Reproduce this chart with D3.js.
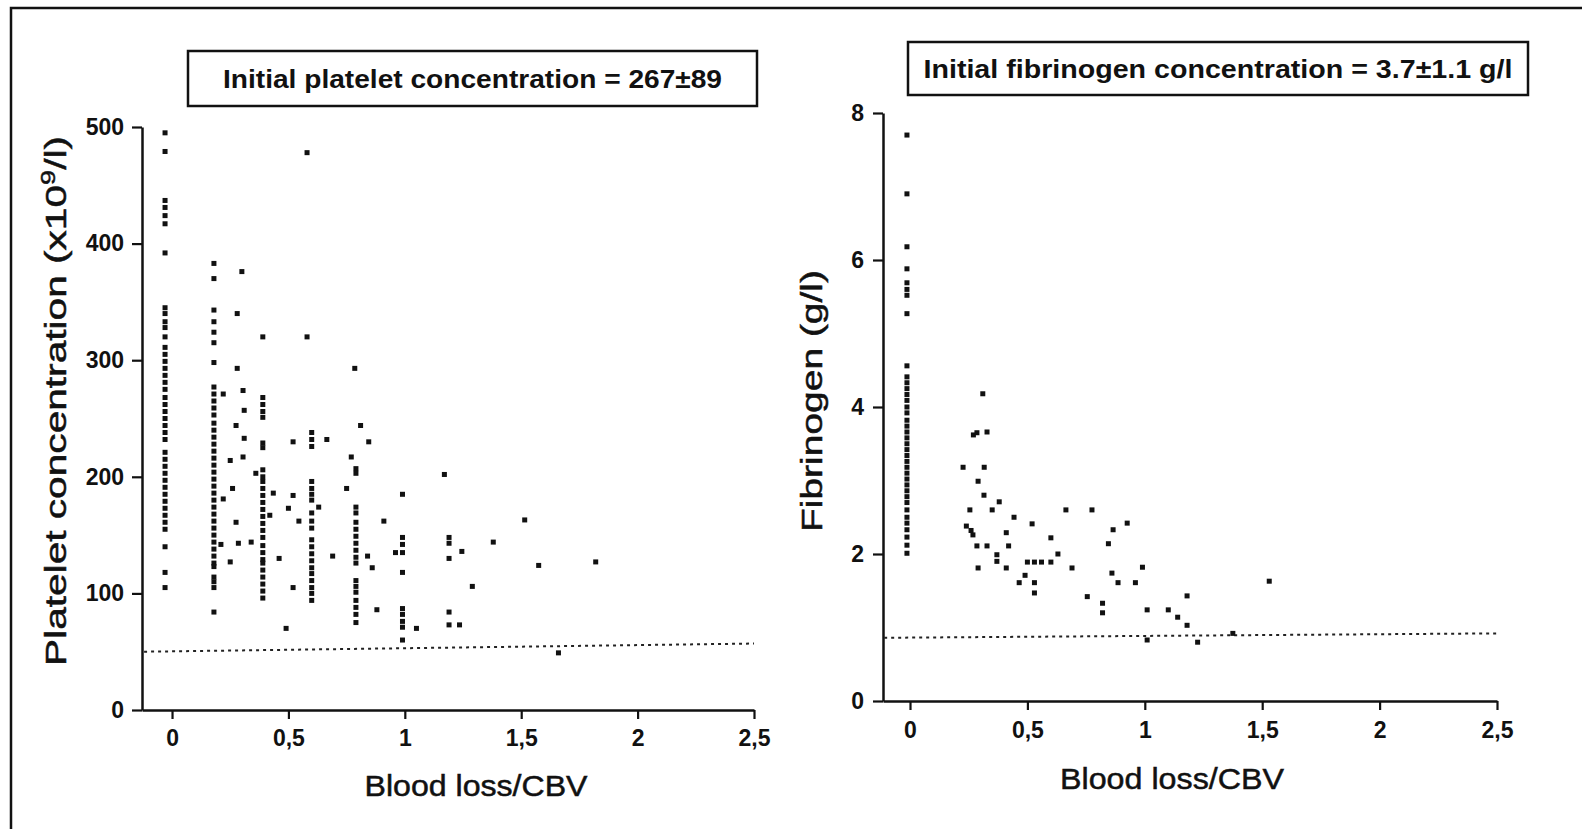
<!DOCTYPE html>
<html><head><meta charset="utf-8">
<script src="https://cdn.jsdelivr.net/npm/d3@7"></script>
<style>
body{margin:0;background:#fff;}
svg text{font-family:"Liberation Sans",Arial,sans-serif;fill:#111;}
</style></head><body>
<svg id="c" width="1582" height="829"></svg>
<script>
// ---- Platelet panel data ----
const blTicks = [0, 0.5, 1, 1.5, 2, 2.5];
const plateletTicks = [0, 100, 200, 300, 400, 500];
const plateletLimit = [[-0.12, 50], [2.5, 57]];
const plateletColumnX = [-0.03, 0.18, 0.39, 0.6, 0.79, 0.99, 1.19];
const plateletColumnY = [
  [495, 479, 437, 431, 424, 417, 392, 345, 340, 333, 328, 320, 311, 305, 299, 293, 287, 281, 275, 268, 262, 256, 250, 244, 238, 232, 221, 215, 209, 203, 197, 191, 185, 179, 173, 167, 161, 155, 140, 118, 105],
  [383, 370, 343, 333, 324, 315, 298, 277, 271, 265, 259, 253, 246, 240, 234, 228, 222, 216, 210, 204, 198, 192, 186, 180, 174, 168, 162, 156, 150, 144, 138, 132, 126, 123, 114, 110, 105, 84],
  [320, 268, 262, 256, 251, 229, 225, 206, 200, 196, 190, 184, 178, 172, 166, 160, 154, 148, 141, 135, 129, 126, 120, 114, 108, 102, 96],
  [238, 232, 226, 196, 190, 185, 180, 169, 162, 156, 146, 140, 134, 128, 122, 117, 111, 105, 100, 94],
  [207, 203, 174, 169, 161, 155, 149, 143, 137, 131, 126, 111, 106, 101, 94, 88, 82, 75],
  [185, 148, 142, 135, 118, 87, 82, 76, 71, 60],
  [148, 143, 130, 84, 73]
];
const plateletScatter = [
  [0.58, 478], [0.58, 320], [0.785, 293],
  [0.30, 376], [0.28, 340], [0.28, 293], [0.305, 274], [0.22, 271], [0.31, 257],
  [0.275, 244], [0.31, 233], [0.305, 217], [0.25, 214], [0.36, 203], [0.26, 190],
  [0.22, 181], [0.275, 161], [0.285, 143], [0.34, 144], [0.25, 127], [0.21, 142],
  [0.42, 167], [0.435, 186], [0.52, 230], [0.52, 184], [0.50, 173], [0.545, 162],
  [0.46, 130], [0.52, 105], [0.49, 70], [0.63, 174], [0.665, 232], [0.69, 132],
  [0.75, 190], [0.77, 217], [0.81, 244], [0.845, 230], [0.84, 132], [0.86, 122],
  [0.88, 86], [0.91, 162], [0.96, 135], [1.05, 70], [1.17, 202], [1.515, 163],
  [1.38, 144], [1.245, 136], [1.575, 124], [1.82, 127], [1.29, 106], [1.235, 73],
  [1.66, 49]
];

// ---- Fibrinogen panel data ----
const fibrinogenTicks = [0, 2, 4, 6, 8];
const fibrinogenLimit = [[-0.11, 0.86], [2.5, 0.92]];
const fibrinogenColumnX = [-0.013];
const fibrinogenColumnY = [
  [7.70, 6.90, 6.18, 5.88, 5.69, 5.60, 5.52, 5.27, 4.56, 4.41, 4.33, 4.25, 4.17, 4.09, 4.00, 3.92, 3.82, 3.74, 3.66, 3.58, 3.50, 3.42, 3.34, 3.26, 3.18, 3.10, 3.02, 2.94, 2.86, 2.78, 2.70, 2.60, 2.50, 2.42, 2.33, 2.23, 2.12, 2.01]
];
const fibrinogenScatter = [
  [0.31, 4.18], [0.27, 3.62], [0.285, 3.65], [0.328, 3.66], [0.226, 3.18], [0.316, 3.18],
  [0.29, 2.99], [0.315, 2.8], [0.38, 2.71], [0.255, 2.6], [0.35, 2.6], [0.443, 2.5],
  [0.24, 2.38], [0.26, 2.32], [0.268, 2.26], [0.41, 2.29], [0.52, 2.41], [0.664, 2.6],
  [0.775, 2.6], [0.285, 2.11], [0.328, 2.11], [0.42, 2.11], [0.60, 2.22], [0.37, 1.99],
  [0.37, 1.9], [0.50, 1.89], [0.53, 1.89], [0.56, 1.89], [0.60, 1.89], [0.63, 2.0],
  [0.29, 1.81], [0.41, 1.81], [0.69, 1.81], [0.49, 1.71], [0.465, 1.61], [0.53, 1.61],
  [0.53, 1.47], [0.865, 2.33], [0.925, 2.42], [0.845, 2.14], [0.86, 1.74], [0.886, 1.61],
  [0.96, 1.61], [0.99, 1.82], [0.755, 1.42], [0.82, 1.33], [0.82, 1.2], [1.01, 1.24],
  [1.10, 1.24], [1.14, 1.14], [1.18, 1.43], [1.18, 1.03], [1.01, 0.83], [1.225, 0.80],
  [1.375, 0.92], [1.53, 1.63]
];

const svg = d3.select("#c");
const comma = d => String(d).replace(".", ",");

// page frame (top and left edges)
svg.append("path").attr("d", "M11,829V8H1582").attr("fill", "none")
  .attr("stroke", "#111").attr("stroke-width", 2.5);

function points(colX, colY, scatter) {
  const out = [];
  colX.forEach((x, i) => colY[i].forEach(y => out.push([x, y])));
  return out.concat(scatter);
}

function panel(cfg) {
  const g = svg.append("g");
  const x = d3.scaleLinear().domain(cfg.xDomain).range(cfg.xRange);
  const y = d3.scaleLinear().domain(cfg.yDomain).range(cfg.yRange);

  const xa = g.append("g").attr("transform", `translate(0,${cfg.yRange[0]})`)
    .call(d3.axisBottom(x).tickValues(blTicks).tickFormat(comma)
      .tickSize(9).tickSizeOuter(0).tickPadding(cfg.xPad));
  const ya = g.append("g").attr("transform", `translate(${cfg.xRange[0]},0)`)
    .call(d3.axisLeft(y).tickValues(cfg.yTicks).tickSize(10).tickSizeOuter(0).tickPadding(cfg.yPad));
  [xa, ya].forEach(a => {
    a.select(".domain").attr("stroke", "#111").attr("stroke-width", 2.5);
    a.selectAll(".tick line").attr("stroke", "#111").attr("stroke-width", 2.2);
    a.selectAll(".tick text").attr("font-size", 23).attr("font-weight", "bold")
      .attr("fill", "#1a1a1a");
  });

  // dotted limit line
  g.append("path").datum(cfg.limit)
    .attr("d", d3.line().x(d => x(d[0])).y(d => y(d[1])))
    .attr("fill", "none").attr("stroke", "#222").attr("stroke-width", 2)
    .attr("stroke-dasharray", "3,4");

  // observations
  g.selectAll("rect.pt").data(cfg.data).join("rect").attr("class", "pt")
    .attr("x", d => x(d[0]) - 2.5).attr("y", d => y(d[1]) - 2.5)
    .attr("width", 5).attr("height", 5).attr("fill", "#111");

  // boxed heading
  g.append("rect").attr("x", cfg.box[0]).attr("y", cfg.box[1])
    .attr("width", cfg.box[2]).attr("height", cfg.box[3])
    .attr("fill", "none").attr("stroke", "#111").attr("stroke-width", 2.5);
  g.append("text").attr("x", cfg.box[0] + cfg.box[2] / 2).attr("y", cfg.headY)
    .attr("text-anchor", "middle").attr("font-size", 26).attr("font-weight", "bold")
    .attr("textLength", cfg.headLen).attr("lengthAdjust", "spacingAndGlyphs")
    .text(cfg.heading);

  // x axis title
  g.append("text").attr("x", cfg.xTitle[0]).attr("y", cfg.xTitle[1])
    .attr("text-anchor", "middle").attr("font-size", 30)
    .attr("stroke", "#111").attr("stroke-width", 0.5)
    .attr("textLength", cfg.xTitle[2]).attr("lengthAdjust", "spacingAndGlyphs")
    .text("Blood loss/CBV");

  // y axis title
  const yt = g.append("text")
    .attr("transform", `translate(${cfg.yTitle[0]},${cfg.yTitle[1]}) rotate(-90)`)
    .attr("text-anchor", "middle").attr("font-size", 30)
    .attr("stroke", "#111").attr("stroke-width", 0.5)
    .attr("textLength", cfg.yTitle[2]).attr("lengthAdjust", "spacingAndGlyphs");
  cfg.yTitleParts(yt);
}

panel({
  xDomain: [-0.129, 2.5], xRange: [142, 754],
  yDomain: [0, 500], yRange: [710, 127],
  yTicks: plateletTicks, xPad: 11, yPad: 8,
  limit: plateletLimit,
  data: points(plateletColumnX, plateletColumnY, plateletScatter),
  box: [188, 51, 569, 55], headY: 88, headLen: 499,
  heading: "Initial platelet concentration = 267±89",
  xTitle: [476, 796, 223],
  yTitle: [66, 401, 530],
  yTitleParts: t => {
    t.append("tspan").text("Platelet concentration  (x10");
    t.append("tspan").attr("dy", -11).attr("font-size", 20).text("9");
    t.append("tspan").attr("dy", 11).text("/l)");
  }
});

panel({
  xDomain: [-0.115, 2.5], xRange: [883, 1497],
  yDomain: [0, 8], yRange: [701, 113],
  yTicks: fibrinogenTicks, xPad: 12, yPad: 9,
  limit: fibrinogenLimit,
  data: points(fibrinogenColumnX, fibrinogenColumnY, fibrinogenScatter),
  box: [908, 42, 620, 53], headY: 78, headLen: 589,
  heading: "Initial fibrinogen concentration = 3.7±1.1 g/l",
  xTitle: [1172, 789, 224],
  yTitle: [822, 401, 262],
  yTitleParts: t => { t.text("Fibrinogen  (g/l)"); }
});
</script>
</body></html>
